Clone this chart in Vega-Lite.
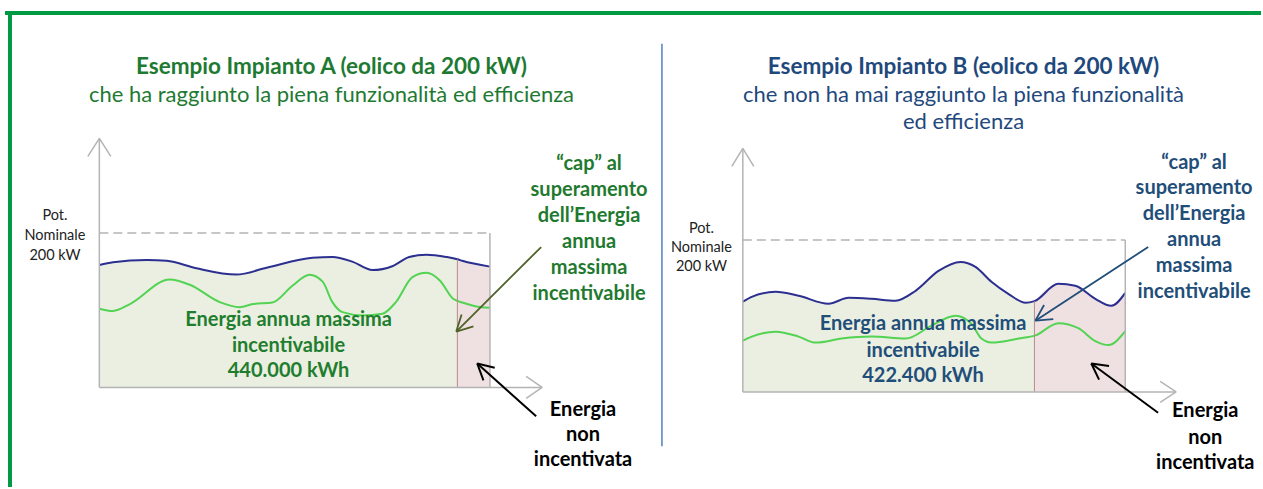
{
  "$schema": "https://vega.github.io/schema/vega-lite/v6.json",
  "width": 1263,
  "height": 489,
  "autosize": {"type": "fit", "contains": "padding"},
  "padding": 0,
  "background": "white",
  "config": {"view": {"stroke": null}, "text": {"font": "Lato"}},
  "resolve": {"scale": {"x": "independent", "y": "independent"}},
  "layer": [
    {
      "encoding": {
        "x": {"field": "m", "type": "quantitative", "scale": {"domain": [-3.052, 35.69], "nice": false, "zero": false}, "axis": null},
        "y": {"field": "k", "type": "quantitative", "scale": {"domain": [-129.03, 501.94], "nice": false, "zero": false}, "axis": null}
      },
      "layer": [
        {
          "data": {"values": [
            {"m": 0, "k": 158.7}, {"m": 0.42, "k": 162.2}, {"m": 1.46, "k": 165}, {"m": 2.07, "k": 164}, {"m": 2.98, "k": 154.4},
            {"m": 4.21, "k": 146.2}, {"m": 5.14, "k": 155}, {"m": 6.55, "k": 168}, {"m": 7.16, "k": 169}, {"m": 7.77, "k": 163},
            {"m": 8.39, "k": 152}, {"m": 9.0, "k": 157}, {"m": 9.52, "k": 169}, {"m": 10.05, "k": 172}, {"m": 10.66, "k": 169},
            {"m": 11, "k": 166}, {"m": 11.15, "k": 164}, {"m": 12, "k": 156.5}
          ]},
          "layer": [
            {"transform": [{"filter": "datum.m <= 11"}], "mark": {"type": "area", "interpolate": "monotone", "color": "#ebefe2"}, "encoding": {"y2": {"datum": 0}}},
            {"transform": [{"filter": "datum.m >= 11"}], "mark": {"type": "area", "interpolate": "monotone", "color": "#efe1e1"}, "encoding": {"y2": {"datum": 0}}},
            {"mark": {"type": "line", "interpolate": "monotone", "color": "#2b2f8f", "strokeWidth": 2}, "encoding": {}}
          ]
        },
        {
          "data": {"values": [
            {"m": 0, "k": 102}, {"m": 0.42, "k": 99}, {"m": 0.94, "k": 108}, {"m": 2.16, "k": 139.8}, {"m": 2.78, "k": 133},
            {"m": 3.70, "k": 110.5}, {"m": 4.31, "k": 104}, {"m": 4.72, "k": 108}, {"m": 5.32, "k": 110}, {"m": 5.94, "k": 132},
            {"m": 6.46, "k": 146}, {"m": 6.86, "k": 137}, {"m": 7.16, "k": 110.5}, {"m": 7.47, "k": 97.6}, {"m": 8.09, "k": 93.3},
            {"m": 8.70, "k": 95.5}, {"m": 9.11, "k": 110.5}, {"m": 9.62, "k": 142.8}, {"m": 10.05, "k": 148.4}, {"m": 10.46, "k": 138.5},
            {"m": 10.87, "k": 114.8}, {"m": 11.18, "k": 109.7}, {"m": 11.69, "k": 104.1}, {"m": 12, "k": 103.2}
          ]},
          "mark": {"type": "line", "interpolate": "monotone", "color": "#52d352", "strokeWidth": 2},
          "encoding": {}
        },
        {
          "data": {"values": [{"m": 11, "k": 0, "m2": 11, "k2": 166}]},
          "mark": {"type": "rule", "color": "#b88a8a", "strokeWidth": 1},
          "encoding": {"x2": {"field": "m2"}, "y2": {"field": "k2"}}
        },
        {
          "data": {"values": [
            {"m": 0, "k": 0, "m2": 0, "k2": 322.6},
            {"m": -0.353, "k": 299.4, "m2": 0, "k2": 322.6},
            {"m": 0.353, "k": 299.4, "m2": 0, "k2": 322.6},
            {"m": 0, "k": 0, "m2": 13.604, "k2": 0},
            {"m": 13.113, "k": 14.2, "m2": 13.604, "k2": 0},
            {"m": 13.113, "k": -14.2, "m2": 13.604, "k2": 0},
            {"m": 12, "k": 0, "m2": 12, "k2": 200}
          ]},
          "mark": {"type": "rule", "color": "#b4b4b4", "strokeWidth": 1.5},
          "encoding": {"x2": {"field": "m2"}, "y2": {"field": "k2"}}
        },
        {
          "data": {"values": [{"m": 0, "k": 200, "m2": 12, "k2": 200}]},
          "mark": {"type": "rule", "color": "#b4b4b4", "strokeWidth": 1.5, "strokeDash": [9, 5]},
          "encoding": {"x2": {"field": "m2"}, "y2": {"field": "k2"}}
        },
        {
          "data": {"values": [{"m": 1}, {"m": 2}, {"m": 3}, {"m": 4}, {"m": 5}, {"m": 6}, {"m": 7}, {"m": 8}, {"m": 9}, {"m": 10}, {"m": 11}]},
          "mark": {"type": "rule", "color": "#b4b4b4", "strokeWidth": 1.2},
          "encoding": {"y": {"datum": 0}, "y2": {"datum": 10}}
        },
        {
          "data": {"values": [
            {"m": 1, "mese": "Gen"}, {"m": 2, "mese": "Feb"}, {"m": 3, "mese": "Mar"}, {"m": 4, "mese": "Apr"},
            {"m": 5, "mese": "Mag"}, {"m": 6, "mese": "Giu"}, {"m": 7, "mese": "Lug"}, {"m": 8, "mese": "Ago"},
            {"m": 9, "mese": "Set"}, {"m": 10, "mese": "Ott"}, {"m": 11, "mese": "Nov"}, {"m": 12, "mese": "Dic"}
          ]},
          "mark": {"type": "text", "font": "Liberation Sans", "fontSize": 11, "color": "#555555", "align": "center", "baseline": "middle", "dx": 1},
          "encoding": {"y": {"datum": -20.6}, "text": {"field": "mese"}}
        },
        {
          "data": {"values": [
            {"m": 13.574, "k": 181.9, "m2": 10.966, "k2": 72.3},
            {"m": 11.494, "k": 79.1, "m2": 10.966, "k2": 72.3},
            {"m": 11.129, "k": 94.5, "m2": 10.966, "k2": 72.3}
          ]},
          "mark": {"type": "rule", "color": "#4f6228", "strokeWidth": 1.8},
          "encoding": {"x2": {"field": "m2"}, "y2": {"field": "k2"}}
        },
        {
          "data": {"values": [
            {"m": 13.420, "k": -37.4, "m2": 11.610, "k2": 31.0},
            {"m": 11.801, "k": 9.2, "m2": 11.610, "k2": 31.0},
            {"m": 12.147, "k": 25.4, "m2": 11.610, "k2": 31.0}
          ]},
          "mark": {"type": "rule", "color": "#000000", "strokeWidth": 2},
          "encoding": {"x2": {"field": "m2"}, "y2": {"field": "k2"}}
        },
        {
          "data": {"values": [
            {"m": -2.898, "k": 485.2, "m2": 35.69, "k2": 485.2},
            {"m": -2.745, "k": 487.7, "m2": -2.745, "k2": -129.03}
          ]},
          "mark": {"type": "rule", "color": "#009a44", "strokeWidth": 4},
          "encoding": {"x2": {"field": "m2"}, "y2": {"field": "k2"}}
        },
        {
          "data": {"values": [{"m": 17.285, "k": 445.2, "m2": 17.285, "k2": -76.1}]},
          "mark": {"type": "rule", "color": "#4f81bd", "strokeWidth": 1.5},
          "encoding": {"x2": {"field": "m2"}, "y2": {"field": "k2"}}
        },
        {
          "data": {"values": [{"t": "Esempio Impianto A (eolico da 200 kW)", "m": 7.132, "k": 414.5}]},
          "mark": {"type": "text", "fontWeight": "bold", "fontSize": 22.5, "color": "#1e7a32", "align": "center", "baseline": "middle"},
          "encoding": {"text": {"field": "t"}}
        },
        {
          "data": {"values": [{"t": "che ha raggiunto la piena funzionalità ed efficienza", "m": 7.132, "k": 379.4}]},
          "mark": {"type": "text", "fontSize": 22, "color": "#1e7a32", "align": "center", "baseline": "middle"},
          "encoding": {"text": {"field": "t"}}
        },
        {
          "data": {"values": [
            {"t": "Pot.", "m": -1.365, "k": 221.9},
            {"t": "Nominale", "m": -1.365, "k": 196.1},
            {"t": "200 kW", "m": -1.365, "k": 170.3}
          ]},
          "mark": {"type": "text", "fontSize": 14.5, "color": "#222222", "align": "center", "baseline": "middle"},
          "encoding": {"text": {"field": "t"}}
        },
        {
          "data": {"values": [
            {"t": "Energia annua massima", "m": 5.813, "k": 87.7},
            {"t": "incentivabile", "m": 5.813, "k": 54.2},
            {"t": "440.000 kWh", "m": 5.813, "k": 21.9}
          ]},
          "mark": {"type": "text", "fontWeight": "bold", "fontSize": 20, "color": "#1f7e2e", "align": "center", "baseline": "middle"},
          "encoding": {"text": {"field": "t"}}
        },
        {
          "data": {"values": [
            {"t": "“cap” al", "m": 15.046, "k": 289.0},
            {"t": "superamento", "m": 15.046, "k": 255.5},
            {"t": "dell’Energia", "m": 15.046, "k": 221.9},
            {"t": "annua", "m": 15.046, "k": 188.4},
            {"t": "massima", "m": 15.046, "k": 154.8},
            {"t": "incentivabile", "m": 15.046, "k": 121.3}
          ]},
          "mark": {"type": "text", "fontWeight": "bold", "fontSize": 20, "color": "#1f7a30", "align": "center", "baseline": "middle"},
          "encoding": {"text": {"field": "t"}}
        },
        {
          "data": {"values": [
            {"t": "Energia", "m": 14.86, "k": -29.7},
            {"t": "non", "m": 14.86, "k": -61.9},
            {"t": "incentivata", "m": 14.86, "k": -94.2}
          ]},
          "mark": {"type": "text", "fontWeight": "bold", "fontSize": 20, "color": "#000000", "align": "center", "baseline": "middle"},
          "encoding": {"text": {"field": "t"}}
        }
      ]
    },
    {
      "encoding": {
        "x": {"field": "m", "type": "quantitative", "scale": {"domain": [-23.308, 16.259], "nice": false, "zero": false}, "axis": null},
        "y": {"field": "k", "type": "quantitative", "scale": {"domain": [-125.25, 516.07], "nice": false, "zero": false}, "axis": null}
      },
      "layer": [
        {
          "data": {"values": [
            {"m": 0, "k": 118.7}, {"m": 0.28, "k": 125.2}, {"m": 1.03, "k": 131.8}, {"m": 1.75, "k": 126.6}, {"m": 2.69, "k": 116.1},
            {"m": 3.32, "k": 123.9}, {"m": 4.04, "k": 122.6}, {"m": 4.79, "k": 120.0}, {"m": 5.42, "k": 133.1}, {"m": 6.14, "k": 159.3},
            {"m": 6.83, "k": 171.1}, {"m": 7.3, "k": 164.6}, {"m": 7.8, "k": 145}, {"m": 8.33, "k": 129.2}, {"m": 8.87, "k": 117.4},
            {"m": 9.15, "k": 119.5}, {"m": 9.9, "k": 142.3}, {"m": 10.43, "k": 139.7}, {"m": 11.06, "k": 122.6}, {"m": 11.56, "k": 113.4},
            {"m": 12, "k": 130.5}
          ]},
          "layer": [
            {"transform": [{"filter": "datum.m <= 9.15"}], "mark": {"type": "area", "interpolate": "monotone", "color": "#ebefe2"}, "encoding": {"y2": {"datum": 0}}},
            {"transform": [{"filter": "datum.m >= 9.15"}], "mark": {"type": "area", "interpolate": "monotone", "color": "#efe1e1"}, "encoding": {"y2": {"datum": 0}}},
            {"mark": {"type": "line", "interpolate": "monotone", "color": "#2b2f8f", "strokeWidth": 2}, "encoding": {}}
          ]
        },
        {
          "data": {"values": [
            {"m": 0, "k": 67.5}, {"m": 0.28, "k": 72.8}, {"m": 1.03, "k": 79.3}, {"m": 1.75, "k": 72.8}, {"m": 2.29, "k": 64.9},
            {"m": 3.1, "k": 70.2}, {"m": 4.04, "k": 72.8}, {"m": 5.11, "k": 70.2}, {"m": 5.92, "k": 87.2}, {"m": 6.67, "k": 100.3},
            {"m": 7.17, "k": 89.8}, {"m": 7.49, "k": 70.2}, {"m": 7.8, "k": 64.9}, {"m": 8.65, "k": 70.2}, {"m": 9.18, "k": 74.4},
            {"m": 9.9, "k": 90.5}, {"m": 10.53, "k": 83.9}, {"m": 11.06, "k": 66.9}, {"m": 11.47, "k": 61.6}, {"m": 12, "k": 79.9}
          ]},
          "mark": {"type": "line", "interpolate": "monotone", "color": "#52d352", "strokeWidth": 2},
          "encoding": {}
        },
        {
          "data": {"values": [{"m": 9.15, "k": 0, "m2": 9.15, "k2": 119.5}]},
          "mark": {"type": "rule", "color": "#b88a8a", "strokeWidth": 1},
          "encoding": {"x2": {"field": "m2"}, "y2": {"field": "k2"}}
        },
        {
          "data": {"values": [
            {"m": 0, "k": 0, "m2": 0, "k2": 320.7},
            {"m": -0.345, "k": 297.0, "m2": 0, "k2": 320.7},
            {"m": 0.345, "k": 297.0, "m2": 0, "k2": 320.7},
            {"m": 0, "k": 0, "m2": 13.596, "k2": 0},
            {"m": 13.095, "k": 13.8, "m2": 13.596, "k2": 0},
            {"m": 13.095, "k": -13.8, "m2": 13.596, "k2": 0},
            {"m": 12, "k": 0, "m2": 12, "k2": 200}
          ]},
          "mark": {"type": "rule", "color": "#b4b4b4", "strokeWidth": 1.5},
          "encoding": {"x2": {"field": "m2"}, "y2": {"field": "k2"}}
        },
        {
          "data": {"values": [{"m": 0, "k": 200, "m2": 12, "k2": 200}]},
          "mark": {"type": "rule", "color": "#b4b4b4", "strokeWidth": 1.5, "strokeDash": [9, 5]},
          "encoding": {"x2": {"field": "m2"}, "y2": {"field": "k2"}}
        },
        {
          "data": {"values": [
            {"m": 12.719, "k": 190.8, "m2": 9.179, "k2": 93.8},
            {"m": 9.740, "k": 95.9, "m2": 9.179, "k2": 93.8},
            {"m": 9.452, "k": 114.5, "m2": 9.179, "k2": 93.8}
          ]},
          "mark": {"type": "rule", "color": "#1f4e79", "strokeWidth": 1.8},
          "encoding": {"x2": {"field": "m2"}, "y2": {"field": "k2"}}
        },
        {
          "data": {"values": [
            {"m": 13.03, "k": -27.5, "m2": 10.934, "k2": 37.4},
            {"m": 11.178, "k": 16.1, "m2": 10.934, "k2": 37.4},
            {"m": 11.491, "k": 34.0, "m2": 10.934, "k2": 37.4}
          ]},
          "mark": {"type": "rule", "color": "#000000", "strokeWidth": 2},
          "encoding": {"x2": {"field": "m2"}, "y2": {"field": "k2"}}
        },
        {
          "data": {"values": [{"t": "Esempio Impianto B (eolico da 200 kW)", "m": 6.924, "k": 428.2}]},
          "mark": {"type": "text", "fontWeight": "bold", "fontSize": 22.5, "color": "#1f497d", "align": "center", "baseline": "middle"},
          "encoding": {"text": {"field": "t"}}
        },
        {
          "data": {"values": [
            {"t": "che non ha mai raggiunto la piena funzionalità", "m": 6.924, "k": 391.5},
            {"t": "ed efficienza", "m": 6.924, "k": 354.8}
          ]},
          "mark": {"type": "text", "fontSize": 22, "color": "#1f497d", "align": "center", "baseline": "middle"},
          "encoding": {"text": {"field": "t"}}
        },
        {
          "data": {"values": [
            {"t": "Pot.", "m": -1.30, "k": 214.4},
            {"t": "Nominale", "m": -1.30, "k": 189.5},
            {"t": "200 kW", "m": -1.30, "k": 164.6}
          ]},
          "mark": {"type": "text", "fontSize": 14.5, "color": "#222222", "align": "center", "baseline": "middle"},
          "encoding": {"text": {"field": "t"}}
        },
        {
          "data": {"values": [
            {"t": "Energia annua massima", "m": 5.655, "k": 89.8},
            {"t": "incentivabile", "m": 5.655, "k": 54.4},
            {"t": "422.400 kWh", "m": 5.655, "k": 20.3}
          ]},
          "mark": {"type": "text", "fontWeight": "bold", "fontSize": 20, "color": "#1f4e79", "align": "center", "baseline": "middle"},
          "encoding": {"text": {"field": "t"}}
        },
        {
          "data": {"values": [
            {"t": "“cap” al", "m": 14.16, "k": 302.0},
            {"t": "superamento", "m": 14.16, "k": 267.9},
            {"t": "dell’Energia", "m": 14.16, "k": 233.8},
            {"t": "annua", "m": 14.16, "k": 199.7},
            {"t": "massima", "m": 14.16, "k": 165.6},
            {"t": "incentivabile", "m": 14.16, "k": 131.8}
          ]},
          "mark": {"type": "text", "fontWeight": "bold", "fontSize": 20, "color": "#1f4e79", "align": "center", "baseline": "middle"},
          "encoding": {"text": {"field": "t"}}
        },
        {
          "data": {"values": [
            {"t": "Energia", "m": 14.51, "k": -25.6},
            {"t": "non", "m": 14.51, "k": -61.0},
            {"t": "incentivata", "m": 14.51, "k": -93.8}
          ]},
          "mark": {"type": "text", "fontWeight": "bold", "fontSize": 20, "color": "#000000", "align": "center", "baseline": "middle"},
          "encoding": {"text": {"field": "t"}}
        }
      ]
    }
  ]
}
